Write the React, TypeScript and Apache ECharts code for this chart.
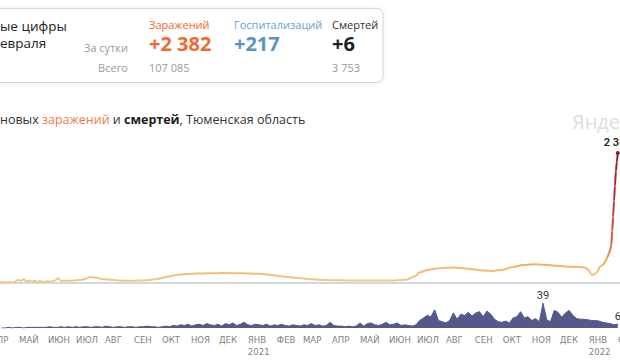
import React, { useEffect, useRef } from 'react';
import * as echarts from 'echarts';

// ---- Data ----
const infectionDates = [
  '2020-04-10', '2020-04-14', '2020-04-18', '2020-04-22', '2020-04-26', '2020-04-30', '2020-05-03', '2020-05-06',
  '2020-05-09', '2020-05-12', '2020-05-15', '2020-05-18', '2020-05-21', '2020-05-24', '2020-05-27', '2020-05-31',
  '2020-06-04', '2020-06-08', '2020-06-12', '2020-06-15', '2020-06-20', '2020-06-28', '2020-07-06', '2020-07-12',
  '2020-07-16', '2020-07-22', '2020-07-30', '2020-08-08', '2020-08-18', '2020-08-28', '2020-09-08', '2020-09-18',
  '2020-09-28', '2020-10-08', '2020-10-18', '2020-10-28', '2020-11-08', '2020-11-20', '2020-12-05', '2020-12-20',
  '2021-01-02', '2021-01-15', '2021-01-28', '2021-02-10', '2021-02-25', '2021-03-10', '2021-03-25', '2021-04-10',
  '2021-04-25', '2021-05-10', '2021-05-25', '2021-06-08', '2021-06-20', '2021-06-28', '2021-07-05', '2021-07-12',
  '2021-07-22', '2021-08-01', '2021-08-10', '2021-08-20', '2021-08-30', '2021-09-10', '2021-09-20', '2021-10-01',
  '2021-10-12', '2021-10-22', '2021-11-02', '2021-11-15', '2021-11-28', '2021-12-10', '2021-12-20', '2021-12-28',
  '2022-01-01', '2022-01-04', '2022-01-07', '2022-01-10', '2022-01-13', '2022-01-16', '2022-01-19', '2022-01-21',
  '2022-01-23', '2022-01-24', '2022-01-25', '2022-01-26', '2022-01-27', '2022-01-28', '2022-01-29', '2022-01-30',
  '2022-01-31', '2022-02-01'
];
const infectionValues = [
  10, 18, 8, 20, 12, 60, 40, 68,
  30, 45, 25, 40, 20, 35, 15, 30,
  25, 45, 86, 40, 42, 45, 55, 80,
  112, 95, 70, 60, 45, 40, 45, 55,
  80, 120, 150, 165, 172, 178, 182, 178,
  175, 168, 140, 115, 90, 68, 55, 50,
  46, 48, 45, 48, 60, 120, 200, 240,
  265, 280, 282, 270, 250, 228, 220, 245,
  295, 330, 342, 335, 315, 300, 292, 285,
  230, 150, 160, 200, 300, 330, 400, 480,
  560, 620, 680, 950, 1210, 1500, 1780, 2050,
  2220, 2382
];

const deathStart = '2020-04-12';
const deathStepDays = 4;
const deathValues = [
  0, 0, 1, 0, 1, 1, 0, 1, 1, 1,
  1, 1, 1, 2, 1, 1, 2, 1, 2, 1,
  2, 1, 2, 2, 1, 2, 2, 1, 3, 2,
  1, 2, 2, 1, 2, 2, 1, 2, 2, 3,
  2, 2, 1, 2, 3, 2, 4, 3, 5, 4,
  6, 3, 5, 6, 4, 7, 5, 4, 6, 3,
  7, 5, 8, 4, 6, 9, 5, 4, 6, 5,
  4, 6, 3, 5, 4, 6, 4, 3, 5, 4,
  3, 5, 4, 7, 4, 5, 3, 4, 9, 4,
  3, 3, 2, 3, 2, 3, 8, 3, 7, 8,
  5, 4, 6, 9, 5, 6, 8, 4, 5, 4,
  3, 5, 12, 16, 20, 18, 29, 12, 10, 8,
  12, 24, 14, 22, 20, 25, 19, 24, 26, 18,
  27, 22, 14, 10, 9, 11, 8, 16, 18, 26,
  16, 18, 12, 15, 10, 39, 13, 10, 28, 25,
  17, 24, 28, 20, 15, 14, 14, 13, 12, 12,
  11, 9, 8, 7, 5, 6
];

const monthNames = ['ЯНВ', 'ФЕВ', 'МАР', 'АПР', 'МАЙ', 'ИЮН', 'ИЮЛ', 'АВГ', 'СЕН', 'ОКТ', 'НОЯ', 'ДЕК'];

const headerLines = ['ые цифры', 'евраля'];
const rowLabels = ['За сутки', 'Всего'];
const summaryTitles = ['Заражений', 'Госпитализаций', 'Смертей'];
const summaryDaily = ['+2 382', '+217', '+6'];
const summaryTotals = ['107 085', '', '3 753'];
const axisRange = ['2020-04-01', '2022-02-05'];

const FONT = '"Open Sans", "Noto Sans", sans-serif';
const NARROW = '"Liberation Sans Narrow", "DejaVu Sans Condensed", Roboto, sans-serif';

function parseLocal(s: string): number {
  const [y, m, d] = s.split('-').map(Number);
  return new Date(y, m - 1, d).getTime();
}

function fmtNum(v: number): string {
  return String(Math.round(v)).replace(/\B(?=(\d{3})+(?!\d))/g, ' ');
}

export default function App() {
  const ref = useRef<HTMLDivElement>(null);

  useEffect(() => {
    if (!ref.current) return;
    const chart = echarts.init(ref.current, undefined, { renderer: 'svg' });

    const lastInf = infectionValues.length - 1;
    const infData = infectionDates.map((d, i) => {
      if (i === lastInf) {
        return {
          value: [parseLocal(d), infectionValues[i]],
          symbol: 'circle',
          symbolSize: 4,
          itemStyle: { color: '#8e1a2c' },
          label: {
            show: true,
            position: 'top',
            distance: 3,
            formatter: (p: any) => fmtNum(p.value[1]),
            color: '#222',
            fontSize: 11,
            fontWeight: 600,
            fontFamily: 'Roboto, sans-serif',
          },
        };
      }
      return { value: [parseLocal(d), infectionValues[i]] };
    });

    const [sy, sm, sd] = deathStart.split('-').map(Number);
    let maxIdx = 0;
    deathValues.forEach((v, i) => {
      if (v > deathValues[maxIdx]) maxIdx = i;
    });
    const lastDeath = deathValues.length - 1;
    const deathData = deathValues.map((v, i) => {
      const t = new Date(sy, sm - 1, sd + i * deathStepDays).getTime();
      if (i === maxIdx || i === lastDeath) {
        return {
          value: [t, v],
          symbol: 'circle',
          symbolSize: 1,
          itemStyle: { color: '#535a8a' },
          label: {
            show: true,
            position: 'top',
            distance: 2,
            color: '#333',
            fontSize: 11,
            fontFamily: 'Roboto, sans-serif',
            formatter: (p: any) => String(p.value[1]),
          },
        };
      }
      return { value: [t, v] };
    });

    const axisMin = parseLocal(axisRange[0]);
    const axisMax = parseLocal(axisRange[1]);

    const monthFormatter = (val: number) => {
      const d = new Date(val);
      if (d.getDate() !== 1 || d.getHours() !== 0) return '';
      const m = monthNames[d.getMonth()];
      return d.getMonth() === 0 ? m + '\n' + d.getFullYear() : m;
    };

    const txt = (text: string, x: number, y: number, o: any = {}) => ({
      type: 'text',
      x,
      y,
      silent: true,
      style: {
        text,
        fontFamily: FONT,
        fontSize: 11,
        fill: '#999',
        verticalAlign: 'middle',
        align: 'left',
        ...o,
      },
    });

    const colX = [149, 234, 332];
    const colTitleColors = ['#f06a30', '#6b9fcb', '#333333'];
    const colBigColors = ['#f06a30', '#5a93c3', '#222222'];

    const graphic: any[] = [
      {
        type: 'rect',
        shape: { x: -20, y: 8.5, width: 403, height: 74, r: 6 },
        style: { fill: '#fff', stroke: '#d6d6d6', lineWidth: 1, shadowBlur: 4, shadowColor: 'rgba(0,0,0,0.08)' },
        silent: true,
      },
      txt(headerLines[0], 0, 26, { fontSize: 13.5, fill: '#222' }),
      txt(headerLines[1], 0, 42.5, { fontSize: 13.5, fill: '#222' }),
      txt(rowLabels[0], 128, 47, { align: 'right' }),
      txt(rowLabels[1], 128, 67, { align: 'right' }),
    ];
    summaryTitles.forEach((t, i) => {
      graphic.push(txt(t, colX[i], 24, { fill: colTitleColors[i] }));
      graphic.push(txt(summaryDaily[i], colX[i], 43.5, { fill: colBigColors[i], fontSize: 20, fontWeight: 'bold' }));
      if (summaryTotals[i]) graphic.push(txt(summaryTotals[i], colX[i], 67, {}));
    });
    graphic.push({
      type: 'text',
      x: 0,
      y: 119,
      silent: true,
      style: {
        text: '{a|новых }{b|заражений}{a| и }{c|смертей}{a|, Тюменская область}',
        verticalAlign: 'middle',
        fontFamily: FONT,
        fontSize: 12.5,
        rich: {
          a: { fontSize: 12.5, fill: '#333', fontFamily: FONT },
          b: { fontSize: 12.5, fill: '#ee7a4a', fontFamily: FONT },
          c: { fontSize: 12.5, fill: '#222', fontWeight: 'bold', fontFamily: FONT },
        },
      },
    });
    graphic.push(txt('Яндекс', 572, 121, { fontSize: 20, fill: '#dedede' }));

    chart.setOption({
      animation: false,
      backgroundColor: '#ffffff',
      graphic,
      grid: [
        { left: -9, width: 630.5, top: 153, height: 130, outerBoundsMode: 'none', containLabel: false },
        { left: -9, width: 630.5, top: 303.5, height: 24.5, outerBoundsMode: 'none', containLabel: false },
      ],
      xAxis: [
        {
          type: 'time',
          gridIndex: 0,
          min: axisMin,
          max: axisMax,
          axisLine: { show: true, lineStyle: { color: '#d3d7e2', width: 2 } },
          axisTick: { show: false },
          axisLabel: { show: false },
          splitLine: { show: false },
        },
        {
          type: 'time',
          gridIndex: 1,
          min: axisMin,
          max: axisMax,
          splitNumber: 24,
          axisLine: { show: false },
          axisTick: { show: false },
          splitLine: { show: false },
          axisLabel: {
            formatter: monthFormatter,
            color: '#7f7f7f',
            fontSize: 9.5,
            lineHeight: 12,
            margin: 5,
            align: 'left',
            fontFamily: NARROW,
            showMinLabel: true,
            showMaxLabel: true,
          },
        },
      ],
      yAxis: [
        { type: 'value', gridIndex: 0, min: 0, max: 2382, show: false, splitLine: { show: false } },
        { type: 'value', gridIndex: 1, min: 0, max: 39, show: false, splitLine: { show: false } },
      ],
      series: [
        {
          type: 'line',
          xAxisIndex: 0,
          yAxisIndex: 0,
          data: infData,
          symbol: 'none',
          showSymbol: true,
          showAllSymbol: true,
          smooth: 0.3,
          smoothMonotone: 'x',
          lineStyle: {
            width: 2,
            color: new echarts.graphic.LinearGradient(0, 0, 0, 1, [
              { offset: 0, color: '#8e1a2c' },
              { offset: 0.4, color: '#c3303a' },
              { offset: 0.72, color: '#e2603c' },
              { offset: 0.82, color: '#f0a050' },
              { offset: 0.88, color: '#f1b86a' },
              { offset: 1, color: '#f2c987' },
            ]),
          },
          z: 3,
        },
        {
          type: 'line',
          xAxisIndex: 1,
          yAxisIndex: 1,
          data: deathData,
          symbol: 'none',
          showSymbol: true,
          showAllSymbol: true,
          lineStyle: { width: 1, color: '#535a8a' },
          areaStyle: { color: '#535a8a', opacity: 1 },
          z: 2,
        },
      ],
    });

    return () => chart.dispose();
  }, []);

  return (
    <div
      ref={ref}
      style={{ position: 'fixed', left: 0, top: 0, width: 620, height: 364, background: '#fff' }}
    />
  );
}
